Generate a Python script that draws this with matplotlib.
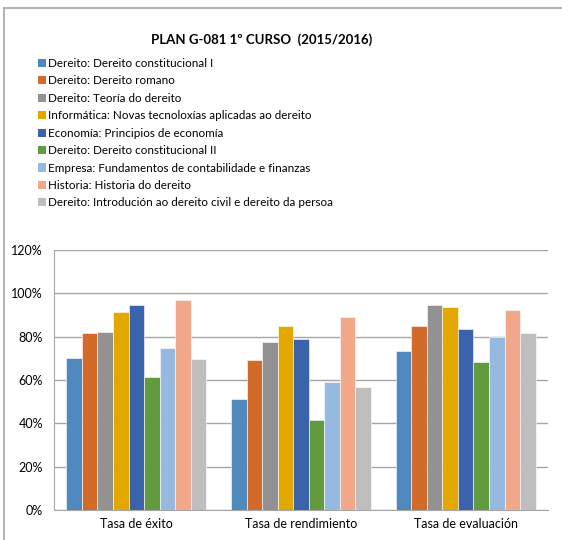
import numpy as np
import matplotlib
matplotlib.use("Agg")
import matplotlib.pyplot as plt
from matplotlib.lines import Line2D
from matplotlib.patches import Patch
from matplotlib.ticker import PercentFormatter

plt.rcParams['font.family'] = ['Lato', 'DejaVu Sans']

categories = ['Tasa de éxito', 'Tasa de rendimiento', 'Tasa de evaluación']
subjects = [
    'Dereito: Dereito constitucional I',
    'Dereito: Dereito romano',
    'Dereito: Teoría do dereito',
    'Informática: Novas tecnoloxías aplicadas ao dereito',
    'Economía: Principios de economía',
    'Dereito: Dereito constitucional II',
    'Empresa: Fundamentos de contabilidade e finanzas',
    'Historia: Historia do dereito',
    'Dereito: Introdución ao dereito civil e dereito da persoa',
]
# values per subject: [éxito, rendimento, avaliación] in %
const_i = [70.0, 51.2, 73.2]
romano = [81.8, 69.4, 84.8]
teoria = [82.0, 77.5, 94.6]
informatica = [91.2, 85.1, 93.5]
economia = [94.7, 78.9, 83.4]
const_ii = [61.2, 41.7, 68.3]
empresa = [74.6, 59.2, 80.0]
historia = [96.8, 89.2, 92.3]
introducion = [69.7, 56.8, 81.5]
series = [const_i, romano, teoria, informatica, economia,
          const_ii, empresa, historia, introducion]

colors = ['#4F89BE', '#D26B2A', '#929292', '#E2A800', '#3B63AB',
          '#629A3E', '#98B9DF', '#F0A78A', '#BEBEBE']

fig = plt.figure(figsize=(5.62, 5.40), dpi=100)
ax = fig.add_axes([54 / 562, 30 / 540, 494 / 562, 260 / 540])

n = len(series)
group_w = 0.85
bw = group_w / n
x = np.arange(len(categories))
for i, (vals, c) in enumerate(zip(series, colors)):
    ax.bar(x - group_w / 2 + bw * (i + 0.5), vals, bw, color=c,
           edgecolor='white', linewidth=0.4, zorder=3)

ax.set_xlim(-0.5, 2.5)
ax.set_ylim(0, 120)
ax.set_yticks(np.arange(0, 121, 20))
ax.yaxis.set_major_formatter(PercentFormatter(decimals=0))
ax.set_xticks(x)
ax.set_xticklabels(categories)
ax.tick_params(axis='both', length=0, labelsize=9, colors='#000000')
ax.tick_params(axis='y', pad=8)
ax.tick_params(axis='x', pad=6)
ax.grid(axis='y', color='#A6A6A6', linewidth=1.0, zorder=0)
for s in ['top', 'right']:
    ax.spines[s].set_visible(False)
ax.spines['left'].set_color('#A6A6A6')
ax.spines['bottom'].set_color('#A6A6A6')

fig.text(262 / 562, 1 - 40 / 540, 'PLAN G-081 1º CURSO  (2015/2016)',
         ha='center', va='center', fontsize=9.5, fontweight='bold')

handles = [Patch(facecolor=c, edgecolor='none') for c in colors]
fig.legend(handles, subjects, loc='upper left',
           bbox_to_anchor=(38 / 562, 1 - 58 / 540), frameon=False,
           fontsize=8.4, handlelength=0.7, handleheight=0.7,
           handletextpad=0.2, labelspacing=0.55, borderaxespad=0,
           borderpad=0)

# chart frame (left and top edge visible)
fig.add_artist(Line2D([4 / 562, 4 / 562], [0, 1 - 7.5 / 540],
                      color='#A6A6A6', linewidth=1.2))
fig.add_artist(Line2D([4 / 562, 1], [1 - 7.5 / 540, 1 - 7.5 / 540],
                      color='#A6A6A6', linewidth=1.2))

fig.savefig('out.png', dpi=100)
